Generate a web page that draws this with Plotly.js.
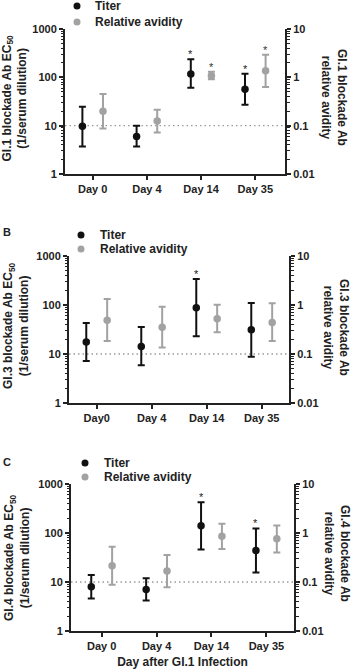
<!DOCTYPE html>
<html>
<head>
<meta charset="utf-8">
<script src="https://cdn.plot.ly/plotly-3.0.1.min.js"></script>
<style>html,body{margin:0;padding:0;background:#fff;}#chart{width:357px;height:671px;}</style>
</head>
<body>
<div id="chart"></div>
<script>
// ---------- data ----------
const daysA = ['Day 0', 'Day 4', 'Day 14', 'Day 35'];
const daysB = ['Day0', 'Day 4', 'Day 14', 'Day 35'];
const daysC = ['Day 0', 'Day 4', 'Day 14', 'Day 35'];

// Panel A: GI.1
const titerA   = [9.7, 6.0, 117, 57];
const titerAHi = [24.7, 10, 236, 119];
const titerALo = [3.7, 3.7, 61, 27];
const avidA    = [0.198, 0.125, 1.08, 1.37];
const avidAHi  = [0.45, 0.214, 1.31, 2.94];
const avidALo  = [0.087, 0.072, 0.91, 0.63];
const sigTiterA = [false, false, true, true];
const sigAvidA  = [false, false, true, true];

// Panel B: GI.3
const titerB   = [17.6, 14.3, 88, 31.4];
const titerBHi = [43, 35.6, 340, 110];
const titerBLo = [7.2, 5.9, 23, 8.8];
const avidB    = [0.486, 0.35, 0.526, 0.44];
const avidBHi  = [1.33, 0.925, 1.01, 1.08];
const avidBLo  = [0.184, 0.135, 0.277, 0.184];
const sigTiterB = [false, false, true, false];
const sigAvidB  = [false, false, false, false];

// Panel C: GI.4
const titerC   = [8.0, 7.0, 141, 44];
const titerCHi = [13.9, 11.9, 422, 124];
const titerCLo = [4.6, 4.2, 46, 15.7];
const avidC    = [0.215, 0.168, 0.855, 0.766];
const avidCHi  = [0.526, 0.356, 1.55, 1.43];
const avidCLo  = [0.088, 0.078, 0.47, 0.40];
const sigTiterC = [false, false, true, true];
const sigAvidC  = [false, false, false, false];

const detectionLimit = 10;
const leftTicks = [1, 10, 100, 1000];
const rightTicks = [0.01, 0.1, 1, 10];
const seriesNames = ['Titer', 'Relative avidity'];
const leftTitles = ['GI.1 blockade Ab EC<sub>50</sub><br>(1/serum dilution)',
                    'GI.3 blockade Ab EC<sub>50</sub><br>(1/serum dilution)',
                    'GI.4 blockade Ab EC<sub>50</sub><br>(1/serum dilution)'];
const rightTitles = ['GI.1 blockade Ab<br>relative avidity',
                     'GI.3 blockade Ab<br>relative avidity',
                     'GI.4 blockade Ab<br>relative avidity'];
const panelLetters = ['', 'B', 'C'];
const xTitle = 'Day after GI.1 Infection';

// ---------- style ----------
const W = 357, H = 671;
const FONT = 'Liberation Sans, Arial, Helvetica, sans-serif';
const INK = '#222222';
const TITER_COLOR = '#111111';
const AVID_COLOR = '#a2a2a2';
const COLORS = [TITER_COLOR, AVID_COLOR];
const OFF = 0.19;
const px2x = p => p / W;
const py2y = p => 1 - p / H;

const panels = [
  {days: daysA, t: titerA, tHi: titerAHi, tLo: titerALo, a: avidA, aHi: avidAHi, aLo: avidALo,
   sT: sigTiterA, sA: sigAvidA, box: [65, 285, 29, 174], xr: [-0.511, 3.548],
   legMarkX: 77, legTextX: 93, legRows: [6, 22], ltitle: [14.5, 98], rtitle: [334, 97]},
  {days: daysB, t: titerB, tHi: titerBHi, tLo: titerBLo, a: avidB, aHi: avidBHi, aLo: avidBLo,
   sT: sigTiterB, sA: sigAvidB, box: [69, 289, 256, 403], xr: [-0.504, 3.496],
   legMarkX: 81, legTextX: 98, legRows: [235, 249], ltitle: [16, 326], rtitle: [336, 327], letter: [7, 232]},
  {days: daysC, t: titerC, tHi: titerCHi, tLo: titerCLo, a: avidC, aHi: avidCHi, aLo: avidCLo,
   sT: sigTiterC, sA: sigAvidC, box: [71, 294, 484, 631], xr: [-0.559, 3.503],
   legMarkX: 85, legTextX: 102, legRows: [463, 477], ltitle: [17, 558], rtitle: [337, 553], letter: [7, 462]}
];

const minorLeft = [];
[1, 10, 100].forEach(d => { for (let k = 2; k <= 9; k++) minorLeft.push(k * d); });
const minorRight = minorLeft.map(v => v / 100);

const tickFont = {family: FONT, size: 11, color: INK, weight: 'bold'};
const traces = [];
const layout = {
  width: W, height: H,
  margin: {l: 0, r: 0, t: 0, b: 0},
  paper_bgcolor: '#fff', plot_bgcolor: '#fff',
  showlegend: false,
  shapes: [], annotations: []
};

panels.forEach((p, i) => {
  const n = i + 1;
  const xa = n === 1 ? 'x' : 'x' + n;
  const yl = 'y' + (2 * n - 1 === 1 ? '' : (2 * n - 1));
  const yr = 'y' + (2 * n);
  const idx = p.days.map((d, k) => k);
  const xT = idx.map(k => k - OFF);
  const xA = idx.map(k => k + OFF);

  traces.push({
    type: 'scatter', mode: 'markers', name: seriesNames[0],
    x: xT, y: p.t, xaxis: xa, yaxis: yl,
    marker: {color: TITER_COLOR, size: 7.5},
    error_y: {type: 'data', symmetric: false,
      array: p.tHi.map((h, k) => h - p.t[k]), arrayminus: p.t.map((v, k) => v - p.tLo[k]),
      color: TITER_COLOR, thickness: 2, width: 3.5},
    cliponaxis: false
  });
  traces.push({
    type: 'scatter', mode: 'markers', name: seriesNames[1],
    x: xA, y: p.a, xaxis: xa, yaxis: yr,
    marker: {color: AVID_COLOR, size: 7.5},
    error_y: {type: 'data', symmetric: false,
      array: p.aHi.map((h, k) => h - p.a[k]), arrayminus: p.a.map((v, k) => v - p.aLo[k]),
      color: AVID_COLOR, thickness: 2, width: 3.5},
    cliponaxis: false
  });

  const xKey = n === 1 ? 'xaxis' : 'xaxis' + n;
  const ylKey = 'yaxis' + (2 * n - 1 === 1 ? '' : (2 * n - 1));
  const yrKey = 'yaxis' + (2 * n);
  const [l, r, t, b] = p.box;

  layout[xKey] = {
    domain: [px2x(l), px2x(r)], anchor: yl, range: p.xr, type: 'linear',
    tickmode: 'array', tickvals: idx, ticktext: p.days,
    showline: true, linewidth: 2, linecolor: INK,
    ticks: 'outside', ticklen: 4, tickwidth: 2, tickcolor: INK,
    showgrid: false, zeroline: false, tickfont: tickFont, fixedrange: true
  };
  if (n === 3) layout[xKey].title = {text: xTitle, font: {family: FONT, size: 12, color: INK, weight: 'bold'}, standoff: 6};

  const yCommon = {
    type: 'log', showline: true, linewidth: 2, linecolor: INK,
    ticks: 'outside', ticklen: 4, tickwidth: 2, tickcolor: INK,
    showgrid: false, zeroline: false, tickfont: tickFont, fixedrange: true
  };
  layout[ylKey] = Object.assign({}, yCommon, {
    domain: [py2y(b), py2y(t)], anchor: xa, side: 'left',
    range: [0, 3], tickmode: 'array', tickvals: leftTicks, ticktext: leftTicks.map(String),
    minor: {tickmode: 'array', tickvals: minorLeft, ticks: 'outside', ticklen: 2.5, tickwidth: 1, tickcolor: INK}
  });
  layout[yrKey] = Object.assign({}, yCommon, {
    overlaying: yl, anchor: xa, side: 'right',
    range: [-2, 1], tickmode: 'array', tickvals: rightTicks, ticktext: rightTicks.map(String),
    minor: {tickmode: 'array', tickvals: minorRight, ticks: 'outside', ticklen: 2.5, tickwidth: 1, tickcolor: INK}
  });

  // detection-limit dotted line
  layout.shapes.push({
    type: 'line', xref: xa + ' domain', yref: yl, x0: 0, x1: 1,
    y0: detectionLimit, y1: detectionLimit,
    line: {color: '#9a9a9a', width: 1.3, dash: '1.5px,3px'}, layer: 'below'
  });

  // significance asterisks
  p.sT.forEach((s, k) => { if (s) layout.annotations.push({
    xref: xa, yref: yl, x: xT[k], y: Math.log10(p.tHi[k]), text: '*', showarrow: false,
    yshift: 5, font: {family: FONT, size: 11, color: INK}
  }); });
  p.sA.forEach((s, k) => { if (s) layout.annotations.push({
    xref: xa, yref: yr, x: xA[k], y: Math.log10(p.aHi[k]), text: '*', showarrow: false,
    yshift: 5, font: {family: FONT, size: 11, color: '#333'}
  }); });

  // axis titles
  layout.annotations.push({
    xref: 'paper', yref: 'paper', x: px2x(p.ltitle[0]), y: py2y(p.ltitle[1]),
    xanchor: 'center', yanchor: 'middle', textangle: -90, showarrow: false,
    text: leftTitles[i], font: {family: FONT, size: 12, color: INK, weight: 'bold'}
  });
  layout.annotations.push({
    xref: 'paper', yref: 'paper', x: px2x(p.rtitle[0]), y: py2y(p.rtitle[1]),
    xanchor: 'center', yanchor: 'middle', textangle: 90, showarrow: false,
    text: rightTitles[i], font: {family: FONT, size: 12, color: INK, weight: 'bold'}
  });
  if (panelLetters[i]) layout.annotations.push({
    xref: 'paper', yref: 'paper', x: px2x(p.letter[0]), y: py2y(p.letter[1]),
    xanchor: 'center', yanchor: 'middle', showarrow: false,
    text: panelLetters[i], font: {family: FONT, size: 11, color: INK, weight: 'bold'}
  });

  // legend (marker + label per series)
  seriesNames.forEach((name, s) => {
    const cy = p.legRows[s];
    layout.shapes.push({
      type: 'circle', xref: 'paper', yref: 'paper',
      xsizemode: 'pixel', ysizemode: 'pixel',
      xanchor: px2x(p.legMarkX), yanchor: py2y(cy),
      x0: -3.5, x1: 3.5, y0: -3.5, y1: 3.5,
      fillcolor: COLORS[s], line: {width: 0}
    });
    layout.annotations.push({
      xref: 'paper', yref: 'paper', x: px2x(p.legTextX), y: py2y(cy),
      xanchor: 'left', yanchor: 'middle', showarrow: false,
      text: name, font: {family: FONT, size: 12, color: INK, weight: 'bold'}
    });
  });
});

Plotly.newPlot('chart', traces, layout, {displayModeBar: false, staticPlot: true});
</script>
</body>
</html>
